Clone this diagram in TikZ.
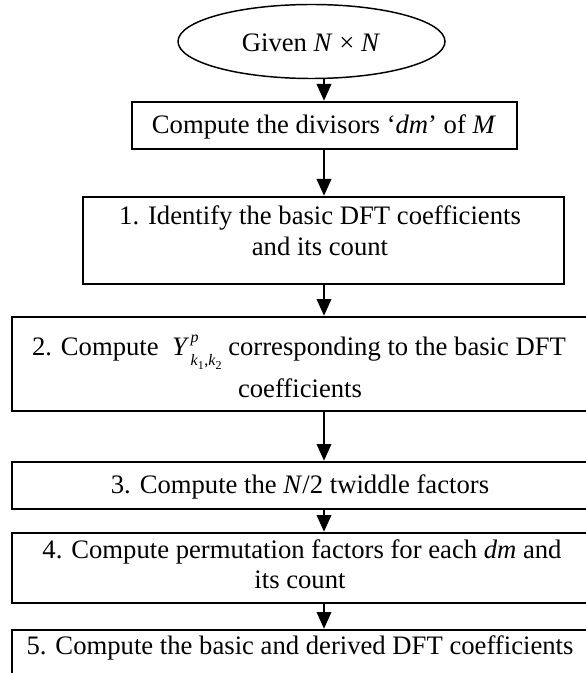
\documentclass[tikz,border=0pt]{standalone}
\usepackage{fontspec}
\setmainfont{Liberation Serif}
\usetikzlibrary{shapes.geometric, arrows.meta}
\newcommand{\Ykk}{\textit{Y}\kern1pt\rlap{\raisebox{0.5em}{\fontsize{12}{12}\selectfont\textit{p}}}\raisebox{-0.38em}{\fontsize{12}{12}\selectfont\textit{k}\raisebox{-0.22em}{\fontsize{9}{9}\selectfont 1}\kern0.3pt,\textit{k}\raisebox{-0.22em}{\fontsize{9}{9}\selectfont 2}}}
\begin{document}
\begin{tikzpicture}[x=0.75pt, y=-0.75pt,
  fbox/.style={draw=black, line width=1.2pt, inner sep=0pt, outer sep=0pt},
  ellbox/.style={draw=black, ellipse, line width=1.1pt, inner sep=0pt, outer sep=0pt},
  txt/.style={inner sep=0pt, outer sep=0pt, font=\fontsize{20}{24}\selectfont},
  arr/.style={-{Triangle[length=12.5pt,width=11pt]}, line width=1.1pt, shorten >=1pt}]
\useasboundingbox (0,0) rectangle (585,673);
% shapes
\node[ellbox, minimum width=200.25pt, minimum height=55.5pt] (ell) at (311.5,41.5) {};
\node[fbox, minimum width=288.75pt, minimum height=35.25pt] (b0) at (324.5,125.5) {};
\node[fbox, line width=1.4pt, minimum width=360.75pt, minimum height=65.25pt] (b1) at (323.5,240.5) {};
\node[fbox, line width=1.4pt, minimum width=432pt, minimum height=70.5pt] (b2) at (300,364) {};
\node[fbox, minimum width=432pt, minimum height=35.25pt] (b3) at (300,485.5) {};
\node[fbox, line width=1.4pt, minimum width=432pt, minimum height=52.5pt] (b4) at (300,568) {};
\node[fbox, minimum width=432pt, minimum height=52.5pt] (b5) at (300,665) {};
% texts
\node[txt] (tell) at (311,43) {Given \textit{N} × \textit{N}};
\node[txt] (t0) at (324,127) {Compute the divisors ‘\textit{dm}’ of \textit{M}};
\node[txt] (t1a) at (320,218) {1. Identify the basic DFT coefficients};
\node[txt] (t1b) at (320,246) {and its count};
\node[txt] (t2a) at (299,352) {2. Compute\ \ \Ykk{} corresponding to the basic DFT};
\node[txt] (t2b) at (300,388) {coefficients};
\node[txt] (t3) at (300,487) {3. Compute the \textit{N}/2 twiddle factors};
\node[txt] (t4a) at (302,552) {4. Compute permutation factors for each \textit{dm} and};
\node[txt] (t4b) at (300,580) {its count};
\node[txt] (t5) at (300,648) {5. Compute the basic and derived DFT coefficients};
% connectors
\coordinate (ax) at (324,0);
\draw[arr] (ell.south -| ax) -- (b0.north -| ax);
\draw[arr] (b0.south -| ax) -- (b1.north -| ax);
\draw[arr] (b1.south -| ax) -- (b2.north -| ax);
\draw[arr] (b2.south -| ax) -- (b3.north -| ax);
\draw[arr] (b3.south -| ax) -- (b4.north -| ax);
\draw[arr] (b4.south -| ax) -- (b5.north -| ax);
\end{tikzpicture}
\end{document}
